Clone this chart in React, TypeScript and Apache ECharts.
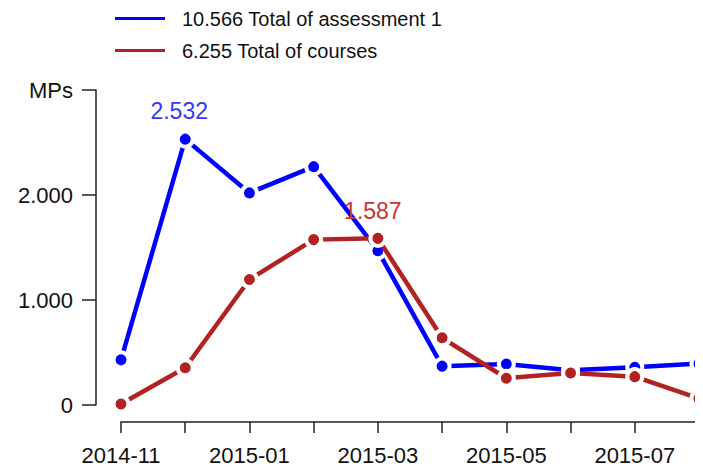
import React, { useEffect, useRef } from "react";
import * as echarts from "echarts";

const months = ["2014-11", "2014-12", "2015-01", "2015-02", "2015-03", "2015-04", "2015-05", "2015-06", "2015-07", "2015-08"];
const assessment = [430, 2532, 2020, 2270, 1470, 370, 390, 330, 360, 394];
const courses = [10, 355, 1195, 1575, 1587, 640, 255, 305, 270, 63];
const seriesNames = ["10.566 Total of assessment 1", "6.255 Total of courses"];
const yTicks = [0, 1000, 2000, 3000];
const yTopLabel = "MPs";

const FONT = "Liberation Sans, Arial, sans-serif";

function fmt(v: number): string {
  return String(Math.round(v)).replace(/\B(?=(\d{3})+(?!\d))/g, ".");
}

export default function App() {
  const ref = useRef<HTMLDivElement>(null);
  useEffect(() => {
    if (!ref.current) return;
    const chart = echarts.init(ref.current, null, { renderer: "svg" });
    const maxA = Math.max(...assessment);
    const maxC = Math.max(...courses);
    const mkData = (arr: number[], max: number, color: string, offset: number[], distance: number) =>
      arr.map((v) =>
        v === max
          ? {
              value: v,
              label: {
                show: true,
                position: "top",
                distance,
                offset,
                formatter: (p: any) => fmt(p.value),
                color,
                fontSize: 23,
                fontFamily: FONT,
              },
            }
          : v
      );
    chart.setOption({
      animation: false,
      backgroundColor: "#ffffff",
      legend: {
        left: 113,
        top: 8,
        padding: 0,
        orient: "vertical",
        icon: "rect",
        itemWidth: 52,
        itemHeight: 5,
        itemGap: 11,
        textStyle: { fontSize: 20, fontFamily: FONT, color: "#111", padding: [0, 0, 0, 11], lineHeight: 21 },
        data: seriesNames,
      },
      grid: { left: 121, right: 4, top: 90, bottom: 68 },
      xAxis: {
        type: "category",
        data: months,
        boundaryGap: false,
        offset: 17,
        axisLine: { show: true, onZero: false, lineStyle: { color: "#222", width: 1.5 } },
        axisTick: { show: true, alignWithLabel: true, interval: 0, length: 11, lineStyle: { color: "#222", width: 1.5 } },
        axisLabel: { interval: 1, margin: 22, fontSize: 22, fontFamily: FONT, color: "#111" },
        splitLine: { show: false },
      },
      yAxis: {
        type: "value",
        min: yTicks[0],
        max: yTicks[yTicks.length - 1],
        interval: 1000,
        offset: 25,
        axisLine: { show: true, lineStyle: { color: "#222", width: 1.5 } },
        axisTick: { show: true, length: 14, lineStyle: { color: "#222", width: 1.5 } },
        axisLabel: {
          margin: 23,
          fontSize: 22,
          fontFamily: FONT,
          color: "#111",
          formatter: (v: number) => (v === yTicks[yTicks.length - 1] ? yTopLabel : fmt(v)),
        },
        splitLine: { show: false },
      },
      series: [
        {
          name: seriesNames[0],
          type: "line",
          data: mkData(assessment, maxA, "#3535ff", [-6, 0], 7),
          color: "#0000ff",
          lineStyle: { width: 4.5, color: "#0000ff" },
          symbol: "circle",
          symbolSize: 15,
          itemStyle: { color: "#0000ff", borderColor: "#ffffff", borderWidth: 4 },
          z: 2,
        },
        {
          name: seriesNames[1],
          type: "line",
          data: mkData(courses, maxC, "#cd3333", [-5, 0], 6),
          color: "#b22222",
          lineStyle: { width: 4.5, color: "#b22222" },
          symbol: "circle",
          symbolSize: 15,
          itemStyle: { color: "#b22222", borderColor: "#ffffff", borderWidth: 4 },
          z: 3,
        },
      ],
    });
    return () => chart.dispose();
  }, []);
  return <div ref={ref} style={{ width: 703, height: 473, margin: -8 }} />;
}
